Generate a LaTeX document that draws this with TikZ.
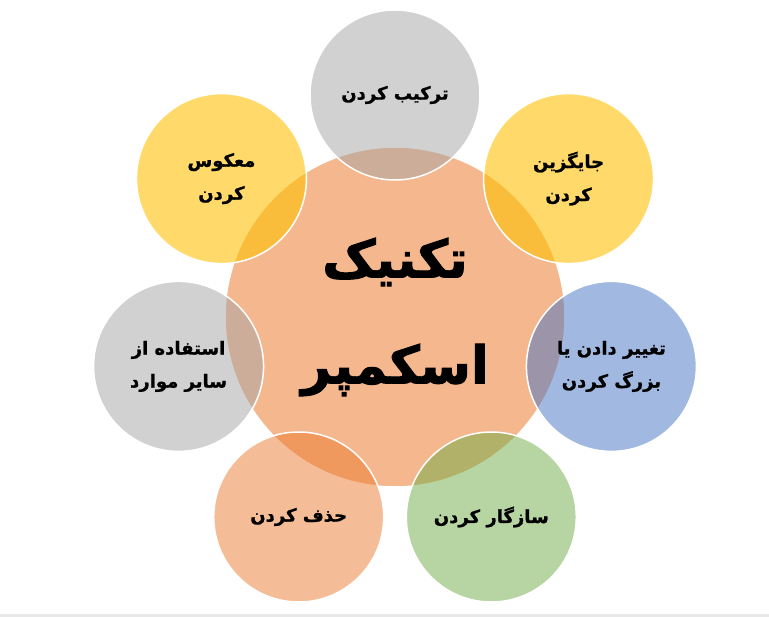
\documentclass[tikz,border=0pt]{standalone}
\usepackage{fontspec}
\newfontfamily\arabicfont[Script=Arabic, BoldFeatures={FakeBold=1.2}]{DejaVu Sans}
\newfontfamily\arabicheavy[Script=Arabic, BoldFeatures={FakeBold=2}]{DejaVu Sans}
\TeXXeTstate=1
\definecolor{cgrey}{HTML}{A5A5A5}
\definecolor{cyellow}{HTML}{FFC000}
\definecolor{cblue}{HTML}{4472C4}
\definecolor{cgreen}{HTML}{70AD47}
\definecolor{corange}{HTML}{ED7D31}
\definecolor{cstrip}{HTML}{E8E8E8}
\tikzset{
  bubble/.style={circle, draw=white, line width=1.5pt, minimum size=170pt, inner sep=0pt,
    fill opacity=0.5, text opacity=1, align=center,
    font=\arabicfont\bfseries\fontsize{18}{33}\selectfont},
  hub/.style={circle, draw=white, line width=1.5pt, minimum size=340pt, inner sep=0pt,
    fill=corange, fill opacity=0.55, text opacity=1, align=center,
    font=\arabicheavy\bfseries\fontsize{52}{106}\selectfont},
}
\begin{document}
\begin{tikzpicture}[x=1pt,y=1pt]
\useasboundingbox (0,0) rectangle (769,617);
\fill[white] (0,0) rectangle (769,617);
\fill[cstrip] (0,0) rectangle (769,3);
\coordinate (c) at (395,300);
\node[hub] (center) at (c) {\beginR تکنیک\endR\\\beginR اسکمپر\endR};
\node[bubble, fill=cgrey] (n0) at ([shift={(90:222)}]c) {\beginR ترکیب کردن\endR};
\node[bubble, fill=cyellow, fill opacity=0.58] (n1) at ([shift={(38.57:222)}]c) {\beginR جایگزین\endR\\\beginR کردن\endR};
\node[bubble, fill=cblue] (n2) at ([shift={(-12.86:222)}]c) {\beginR تغییر دادن یا\endR\\\beginR بزرگ کردن\endR};
\node[bubble, fill=cgreen] (n3) at ([shift={(-64.29:222)}]c) {\beginR سازگار کردن\endR};
\node[bubble, fill=corange] (n4) at ([shift={(-115.71:222)}]c) {\beginR حذف کردن\endR};
\node[bubble, fill=cgrey] (n5) at ([shift={(-167.14:222)}]c) {\beginR استفاده از\endR\\\beginR سایر موارد\endR};
\node[bubble, fill=cyellow, fill opacity=0.58] (n6) at ([shift={(141.43:222)}]c) {\beginR معکوس\endR\\\beginR کردن\endR};
\end{tikzpicture}
\end{document}
